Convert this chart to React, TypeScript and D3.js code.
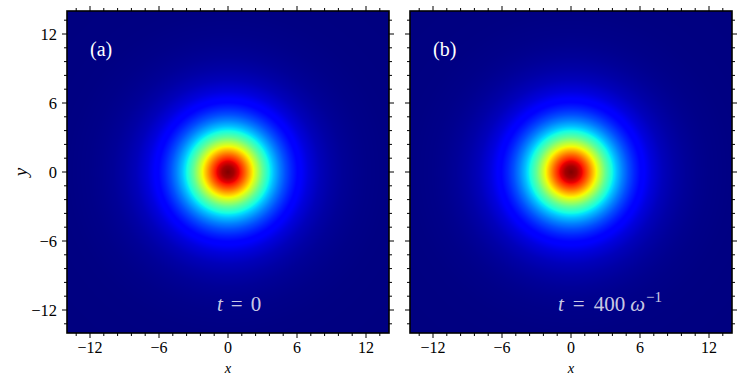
import React, { useMemo } from "react";
import * as d3 from "d3";

// radial density profile (r in plot units, value normalised to peak)
const radii = [0, 0.5, 1, 1.5, 2, 2.5, 3, 3.5, 4, 4.5, 5, 5.5, 6, 7, 8, 9, 10, 11, 12, 14, 16, 20];
const densityA = [1.0, 0.97, 0.9, 0.8, 0.69, 0.58, 0.47, 0.385, 0.31, 0.25, 0.2, 0.16, 0.127, 0.08, 0.05, 0.032, 0.02, 0.013, 0.008, 0.003, 0.0015, 0];
const densityB = [1.0, 0.97, 0.9, 0.8, 0.69, 0.58, 0.47, 0.385, 0.31, 0.25, 0.2, 0.16, 0.128, 0.081, 0.051, 0.033, 0.021, 0.013, 0.008, 0.003, 0.0015, 0];

const majorTicks = [-12, -6, 0, 6, 12];
const tickLabels = ["\u221212", "\u22126", "0", "6", "12"];
const minorTicks = [-13.2, -10.8, -9.6, -8.4, -7.2, -4.8, -3.6, -2.4, -1.2, 1.2, 2.4, 3.6, 4.8, 7.2, 8.4, 9.6, 10.8, 13.2];
const domain: [number, number] = [-14, 14];

const W = 747;
const H = 374;
const SIZE = 322;
const TOP = 11;
const LEFTS = [67, 410];
const FONT = "'Liberation Serif', 'DejaVu Serif', 'Noto Serif', Times, serif";
const fs = { fontFamily: FONT };

const jetR = d3.scaleLinear().domain([0, 0.35, 0.66, 0.89, 1]).range([0, 0, 1, 1, 0.5]).clamp(true);
const jetG = d3.scaleLinear().domain([0, 0.125, 0.375, 0.64, 0.91, 1]).range([0, 0, 1, 1, 0, 0]).clamp(true);
const jetB = d3.scaleLinear().domain([0, 0.11, 0.34, 0.65, 1]).range([0.5, 1, 1, 0, 0]).clamp(true);

function makeImage(values: number[]): string {
  const canvas = document.createElement("canvas");
  canvas.width = SIZE;
  canvas.height = SIZE;
  const ctx = canvas.getContext("2d");
  if (!ctx) return "";
  const img = ctx.createImageData(SIZE, SIZE);
  const px = d3.scaleLinear().domain([0, SIZE]).range(domain);
  const py = d3.scaleLinear().domain([0, SIZE]).range([domain[1], domain[0]]);
  const prof = d3.scaleLinear().domain(radii).range(values).clamp(true);
  for (let j = 0; j < SIZE; j++) {
    for (let i = 0; i < SIZE; i++) {
      const x = px(i + 0.5);
      const y = py(j + 0.5);
      const v = prof(Math.sqrt(x * x + y * y));
      const k = (j * SIZE + i) * 4;
      img.data[k] = Math.round(jetR(v) * 255);
      img.data[k + 1] = Math.round(jetG(v) * 255);
      img.data[k + 2] = Math.round(jetB(v) * 255);
      img.data[k + 3] = 255;
    }
  }
  ctx.putImageData(img, 0, 0);
  return canvas.toDataURL();
}

function Panel({ left, values, label, showY, children }: any) {
  const url = useMemo(() => makeImage(values), [values]);
  const xs = d3.scaleLinear().domain(domain).range([left, left + SIZE]);
  const ys = d3.scaleLinear().domain(domain).range([TOP + SIZE, TOP]);
  const bottom = TOP + SIZE;
  const right = left + SIZE;
  const tk = (len: number, list: number[], key: string) => (
    <g key={key} stroke="#000" strokeWidth={1}>
      {list.map((t) => (
        <g key={t}>
          <line x1={xs(t)} x2={xs(t)} y1={bottom} y2={bottom + len} />
          <line x1={xs(t)} x2={xs(t)} y1={TOP} y2={TOP - len} />
          <line y1={ys(t)} y2={ys(t)} x1={left} x2={left - len} />
          <line y1={ys(t)} y2={ys(t)} x1={right} x2={right + len} />
        </g>
      ))}
    </g>
  );
  return (
    <g>
      <image href={url} x={left} y={TOP} width={SIZE} height={SIZE} preserveAspectRatio="none" />
      <rect x={left} y={TOP} width={SIZE} height={SIZE} fill="none" stroke="#000" strokeWidth={1.6} />
      {tk(5, majorTicks, "maj")}
      {tk(3, minorTicks, "min")}
      {majorTicks.map((t, i) => (
        <text key={"xl" + t} x={xs(t)} y={352.5} textAnchor="middle" fontSize={16} style={fs}>
          {tickLabels[i]}
        </text>
      ))}
      {showY &&
        majorTicks.map((t, i) => (
          <text key={"yl" + t} x={57} y={ys(t) + 5.5} textAnchor="end" fontSize={16.5} style={fs}>
            {tickLabels[i]}
          </text>
        ))}
      <text x={xs(0)} y={372.5} textAnchor="middle" fontSize={14.5} fontStyle="italic" style={fs}>
        x
      </text>
      <text x={left + 23} y={56} fontSize={20} fill="#fff" style={fs}>
        {label}
      </text>
      {children}
    </g>
  );
}

export default function App() {
  return (
    <svg width={W} height={H} style={{ display: "block", position: "absolute", left: 0, top: 0 }}>
      <rect width={W} height={H} fill="#fff" />
      <Panel left={LEFTS[0]} values={densityA} label="(a)" showY>
        <text x={217} y={311} fontSize={21} fill="#fff" fillOpacity={0.8} style={fs}>
          <tspan fontStyle="italic">t</tspan>
          <tspan dx={8}>=</tspan>
          <tspan dx={8}>0</tspan>
        </text>
      </Panel>
      <Panel left={LEFTS[1]} values={densityB} label="(b)" showY={false}>
        <text x={558} y={311} fontSize={21} fill="#fff" fillOpacity={0.8} style={fs}>
          <tspan fontStyle="italic">t</tspan>
          <tspan dx={9}>=</tspan>
          <tspan dx={9}>400</tspan>
          <tspan dx={5} fontStyle="italic">ω</tspan>
          <tspan dx={1} dy={-9} fontSize={15}>−1</tspan>
        </text>
      </Panel>
      <text x={27} y={172} transform="rotate(-90 27 172)" textAnchor="middle" fontSize={19} fontStyle="italic" style={fs}>
        y
      </text>
    </svg>
  );
}
